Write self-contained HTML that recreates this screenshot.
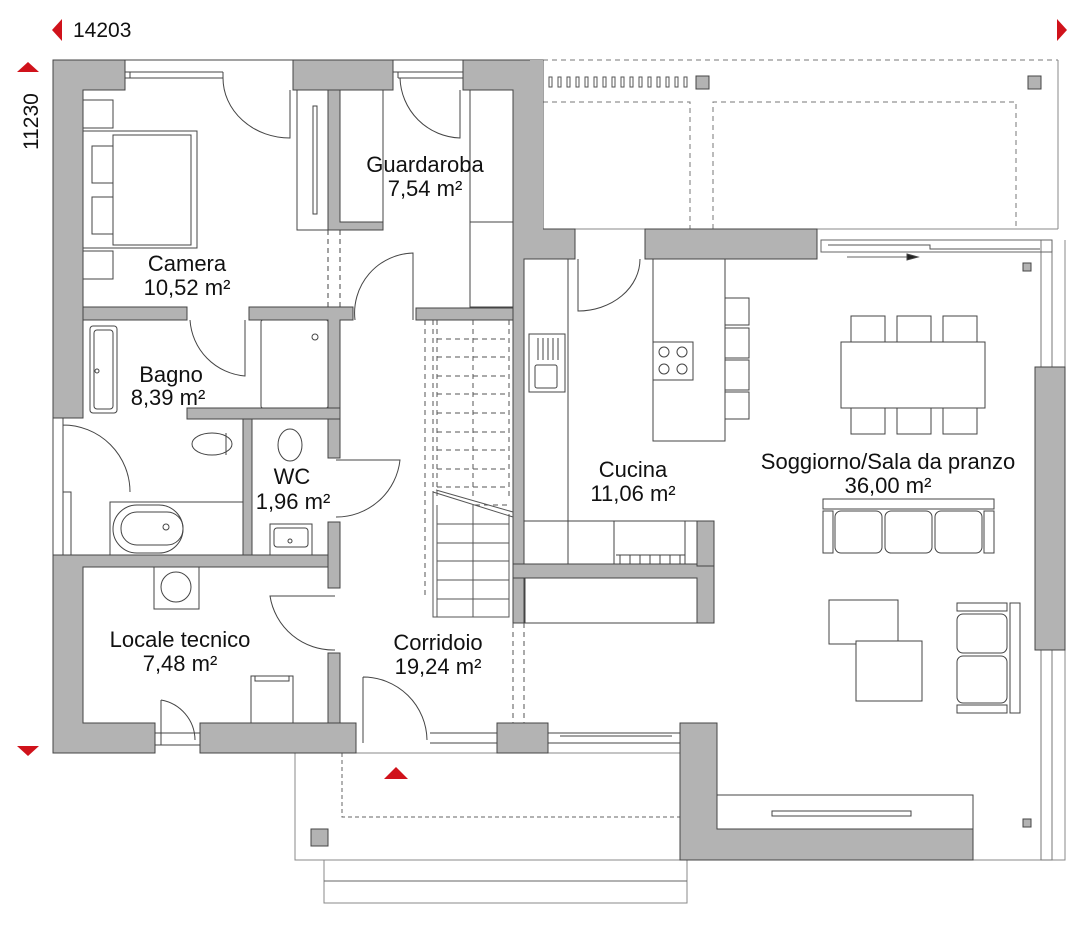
<!DOCTYPE html>
<html><head><meta charset="utf-8"><style>
html,body{margin:0;padding:0;background:#fff;}
svg{display:block;}
text{font-family:"Liberation Sans",sans-serif;fill:#111;}
</style></head><body>
<svg width="1080" height="931" viewBox="0 0 1080 931" xmlns="http://www.w3.org/2000/svg">
<g fill="none" stroke="#444" stroke-width="1">
<line x1="543" y1="60" x2="1058" y2="60" stroke-dasharray="5,4" stroke="#777"/>
<line x1="1058" y1="60" x2="1058" y2="229" stroke="#888"/>
<line x1="543" y1="229" x2="1058" y2="229" stroke="#888"/>
<path d="M543 102 H690 V229 M713 229 V102 H1016 V229" stroke-dasharray="5,4" stroke="#777"/>
<rect x="295" y="753" width="392" height="107" stroke="#888"/>
<path d="M342 753 V817 H687" stroke-dasharray="4,3" stroke="#666"/>
<rect x="324" y="860" width="363" height="43" stroke="#888"/>
<line x1="324" y1="881" x2="687" y2="881" stroke="#666"/>
<path d="M1065 240 V860 H717" stroke="#888"/>
<rect x="1041" y="240" width="11" height="620" stroke="#777"/>
<rect x="821" y="240" width="231" height="12" stroke="#666"/>
<path d="M828 245 H930 V249 H1040" stroke="#555"/>
</g>
<g fill="#b3b3b3" stroke="#444" stroke-width="1">
<path d="M53 60 H125 V90 H83 V418 H53 Z"/>
<rect x="293" y="60" width="100" height="30"/>
<path d="M463 60 H543 V229 H575 V259 H524 V623 H513 V230 H513 V90 H463 Z"/>
<rect x="530" y="60" width="13" height="170" stroke="none"/>
<rect x="645" y="229" width="172" height="30"/>
<rect x="1035" y="367" width="30" height="283"/>
<path d="M53 555 H340 V567 H83 V723 H155 V753 H53 Z"/>
<rect x="200" y="723" width="156" height="30"/>
<rect x="497" y="723" width="51" height="30"/>
<path d="M680 723 H717 V829 H973 V860 H680 Z"/>
<path d="M83 307 H187 V320 H83 Z"/>
<path d="M249 307 H353 V320 H340 V458 H328 V320 H249 Z"/>
<rect x="416" y="308" width="97" height="12"/>
<rect x="187" y="408" width="153" height="11"/>
<rect x="243" y="419" width="9" height="136"/>
<rect x="328" y="522" width="12" height="66"/>
<rect x="328" y="653" width="12" height="70"/>
<path d="M328 90 H340 V222 H383 V230 H328 Z"/>
<path d="M513 564 H714 V623 H697 V578 H513 Z"/>
<rect x="697" y="521" width="17" height="45"/>
<rect x="696" y="76" width="13" height="13"/>
<rect x="1028" y="76" width="13" height="13"/>
<rect x="311" y="829" width="17" height="17"/>
<rect x="1023" y="263" width="8" height="8"/>
<rect x="1023" y="819" width="8" height="8"/>
</g>
<g fill="none" stroke="#444" stroke-width="1">
<path d="M125 60 H293 M125 72 H223 M125 78 H223 M130 72 V78 M393 60 H463 M393 72 H463 M398 72 V78 M398 78 H463"/>
<path d="M223 72 V78 M223 78 A67 60 0 0 0 290 138 V90"/>
<path d="M400 78 A62 62 0 0 0 460 138 V90"/>
<g stroke="#555">
<rect x="549" y="77" width="3" height="10"/><rect x="558" y="77" width="3" height="10"/><rect x="567" y="77" width="3" height="10"/><rect x="576" y="77" width="3" height="10"/><rect x="585" y="77" width="3" height="10"/><rect x="594" y="77" width="3" height="10"/><rect x="603" y="77" width="3" height="10"/><rect x="612" y="77" width="3" height="10"/><rect x="621" y="77" width="3" height="10"/><rect x="630" y="77" width="3" height="10"/><rect x="639" y="77" width="3" height="10"/><rect x="648" y="77" width="3" height="10"/><rect x="657" y="77" width="3" height="10"/><rect x="666" y="77" width="3" height="10"/><rect x="675" y="77" width="3" height="10"/><rect x="684" y="77" width="3" height="10"/>
</g>
<rect x="83" y="100" width="30" height="28"/>
<rect x="83" y="131" width="114" height="117"/>
<rect x="113" y="135" width="78" height="110"/>
<rect x="92" y="146" width="21" height="37"/><rect x="92" y="197" width="21" height="37"/>
<rect x="83" y="251" width="30" height="28"/>
<rect x="297" y="90" width="31" height="140"/>
<rect x="313" y="106" width="4" height="108"/>
<rect x="340" y="90" width="43" height="132"/>
<rect x="470" y="90" width="43" height="217"/><line x1="470" y1="222" x2="513" y2="222"/>
<path d="M328 230 V307 M340 230 V307" stroke-dasharray="5,4"/>
<path d="M190 320 A60 60 0 0 0 245 376 V320"/>
<path d="M355 320 A60 60 0 0 1 413 253 V320"/>
<rect x="90" y="326" width="27" height="87" rx="3"/>
<rect x="94" y="330" width="19" height="79" rx="3"/>
<circle cx="97" cy="371" r="2"/>
<rect x="261" y="320" width="67" height="88" rx="2"/>
<circle cx="315" cy="337" r="3"/>
<path d="M53 418 V555 M63 418 V555 M63 425 A67 67 0 0 1 130 492 M63 490 V492"/>
<rect x="63" y="492" width="8" height="63"/>
<rect x="110" y="502" width="133" height="53"/>
<rect x="113" y="505" width="70" height="48" rx="24"/>
<rect x="121" y="512" width="62" height="33" rx="16"/>
<circle cx="166" cy="527" r="3"/>
<ellipse cx="212" cy="444" rx="20" ry="11"/>
<line x1="226" y1="433" x2="226" y2="455"/>
<ellipse cx="290" cy="445" rx="12" ry="16"/>
<rect x="270" y="524" width="42" height="31"/><rect x="274" y="528" width="34" height="19" rx="3"/><circle cx="290" cy="541" r="2"/>
<path d="M336 460 H400 A64 64 0 0 1 336 517"/>
<rect x="154" y="567" width="45" height="42"/><circle cx="176" cy="587" r="15"/>
<rect x="251" y="676" width="42" height="47"/><rect x="255" y="676" width="34" height="5"/>
<path d="M161 700 A41 41 0 0 1 195 740 M161 700 V745"/>
<path d="M155 733 H200 M155 745 H200"/>
<path d="M335 596 H270 A64 64 0 0 0 335 650"/>
<path d="M363 677 A64 64 0 0 1 427 740 M363 677 V743"/>
<path d="M430 733 H497 M430 743 H497 M548 733 H680 M548 743 H680 M560 736 H672"/>
<g stroke="#555">
<path d="M425 320 V597 M433 320 V499 M437 320 V499 M509 320 V500 M473 320 V499" stroke-dasharray="5,4"/>
<path d="M437 339 H509 M437 357 H509 M437 376 H509 M437 394 H509 M437 413 H509 M437 432 H509 M437 450 H509 M437 469 H509 M437 487 H509 M475 505 H509" stroke-dasharray="5,4"/>
<path d="M433 492 L513 517 M436 490 L513 512"/>
<path d="M433 492 V617 H509 V514 M437 505 V617 M473 505 V617 M437 524 H509 M437 543 H509 M437 561 H509 M437 580 H509 M437 599 H509"/>
<path d="M513 623 V723 M524 623 V723" stroke-dasharray="5,4"/>
</g>
<path d="M568 259 V521 M524 521 H697 M568 521 V564 M614 521 V564 M685 521 V564 M616 555 H685"/>
<path d="M620 555 V564 M630 555 V564 M640 555 V564 M650 555 V564 M660 555 V564 M670 555 V564 M680 555 V564"/>
<rect x="525" y="578" width="172" height="45"/>
<rect x="529" y="334" width="36" height="58"/><rect x="535" y="365" width="22" height="23" rx="2"/>
<path d="M538 338 V360 M543 338 V360 M548 338 V360 M553 338 V360 M558 338 V360"/>
<path d="M578 259 V311 A62 52 0 0 0 640 259"/>
<rect x="653" y="259" width="72" height="182"/>
<rect x="653" y="342" width="40" height="38"/>
<circle cx="664" cy="352" r="5"/><circle cx="682" cy="352" r="5"/><circle cx="664" cy="369" r="5"/><circle cx="682" cy="369" r="5"/>
<rect x="725" y="298" width="24" height="27"/><rect x="725" y="328" width="24" height="30"/><rect x="725" y="360" width="24" height="30"/><rect x="725" y="392" width="24" height="27"/>
<path d="M847 257 H910" stroke="#666"/>
<path d="M907 254 L918 257 L907 260 Z" fill="#222"/>
<rect x="841" y="342" width="144" height="66"/>
<rect x="851" y="316" width="34" height="26"/><rect x="897" y="316" width="34" height="26"/><rect x="943" y="316" width="34" height="26"/>
<rect x="851" y="408" width="34" height="26"/><rect x="897" y="408" width="34" height="26"/><rect x="943" y="408" width="34" height="26"/>
<rect x="823" y="499" width="171" height="10"/>
<rect x="823" y="511" width="10" height="42"/><rect x="984" y="511" width="10" height="42"/>
<rect x="835" y="511" width="47" height="42" rx="6"/><rect x="885" y="511" width="47" height="42" rx="6"/><rect x="935" y="511" width="47" height="42" rx="6"/>
<rect x="829" y="600" width="69" height="44"/>
<rect x="856" y="641" width="66" height="60" fill="#fff"/>
<rect x="957" y="603" width="50" height="8"/><rect x="957" y="705" width="50" height="8"/>
<rect x="957" y="614" width="50" height="39" rx="6"/><rect x="957" y="656" width="50" height="47" rx="6"/>
<rect x="1010" y="603" width="10" height="110"/>
<rect x="717" y="795" width="256" height="34"/>
<rect x="772" y="811" width="139" height="5"/>
</g>
<g fill="#d0121b">
<polygon points="52,30 62,19 62,41"/>
<polygon points="1067,30 1057,19 1057,41"/>
<polygon points="28,62 17,72 39,72"/>
<polygon points="28,756 17,746 39,746"/>
<polygon points="396,767 384,779 408,779"/>
</g>
<text x="73" y="37" font-size="21">14203</text>
<text transform="translate(38,150) rotate(-90)" font-size="21">11230</text>
<g font-size="22" text-anchor="middle">
<text x="187" y="271">Camera</text><text x="187" y="295">10,52 m²</text>
<text x="425" y="172">Guardaroba</text><text x="425" y="196">7,54 m²</text>
<text x="171" y="382">Bagno</text><text x="168" y="405">8,39 m²</text>
<text x="292" y="484">WC</text><text x="293" y="509">1,96 m²</text>
<text x="180" y="647">Locale tecnico</text><text x="180" y="671">7,48 m²</text>
<text x="438" y="650">Corridoio</text><text x="438" y="674">19,24 m²</text>
<text x="633" y="477">Cucina</text><text x="633" y="501">11,06 m²</text>
<text x="888" y="469">Soggiorno/Sala da pranzo</text><text x="888" y="493">36,00 m²</text>
</g>
</svg>
</body></html>
